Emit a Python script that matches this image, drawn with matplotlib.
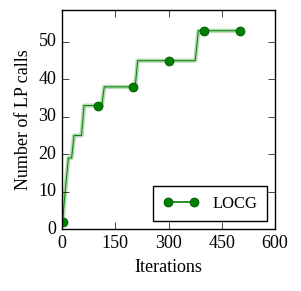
import matplotlib
matplotlib.use('Agg')
import matplotlib.pyplot as plt

# ステップ状のLP呼び出し回数
iters = [2, 6, 10, 14, 18, 27, 34, 55, 62, 112, 119, 206, 213, 375, 384, 500]
calls = [2, 7, 11, 15, 19, 19, 25, 25, 33, 33, 38, 38, 45, 45, 53, 53]

# マーカー位置
mark_iters = [2, 100, 200, 300, 400, 500]
mark_calls = [2, 33, 38, 45, 53, 53]

plt.style.use('classic')
plt.rcParams['font.family'] = ['Liberation Serif', 'DejaVu Serif']
plt.rcParams['font.size'] = 13

fig = plt.figure(figsize=(3.01, 2.91), dpi=100)
ax = fig.add_axes([0.206, 0.213, 0.708, 0.752])

ax.plot(iters, calls, color='green', alpha=0.3, linewidth=3)
ax.plot(iters, calls, color='green', linewidth=0.7)
ax.plot(mark_iters, mark_calls, color='green', linestyle='none',
        marker='o', markersize=6.5, markeredgecolor='#004d00')
# 凡例用
ax.plot([], [], color='green', marker='o', markersize=6.5,
        markeredgecolor='#004d00', linewidth=1.2, label='LOCG')

ax.set_xlim(0, 600)
ax.set_ylim(0, 58.5)
ax.set_xticks([0, 150, 300, 450, 600])
ax.set_yticks([0, 10, 20, 30, 40, 50])
ax.tick_params(length=5)
ax.set_xlabel('Iterations')
ax.set_ylabel('Number of LP calls')
ax.legend(loc='lower right', numpoints=2, fontsize=12, borderpad=0.55,
          handlelength=2.2)

plt.savefig('out.png', dpi=100)
plt.close(fig)
